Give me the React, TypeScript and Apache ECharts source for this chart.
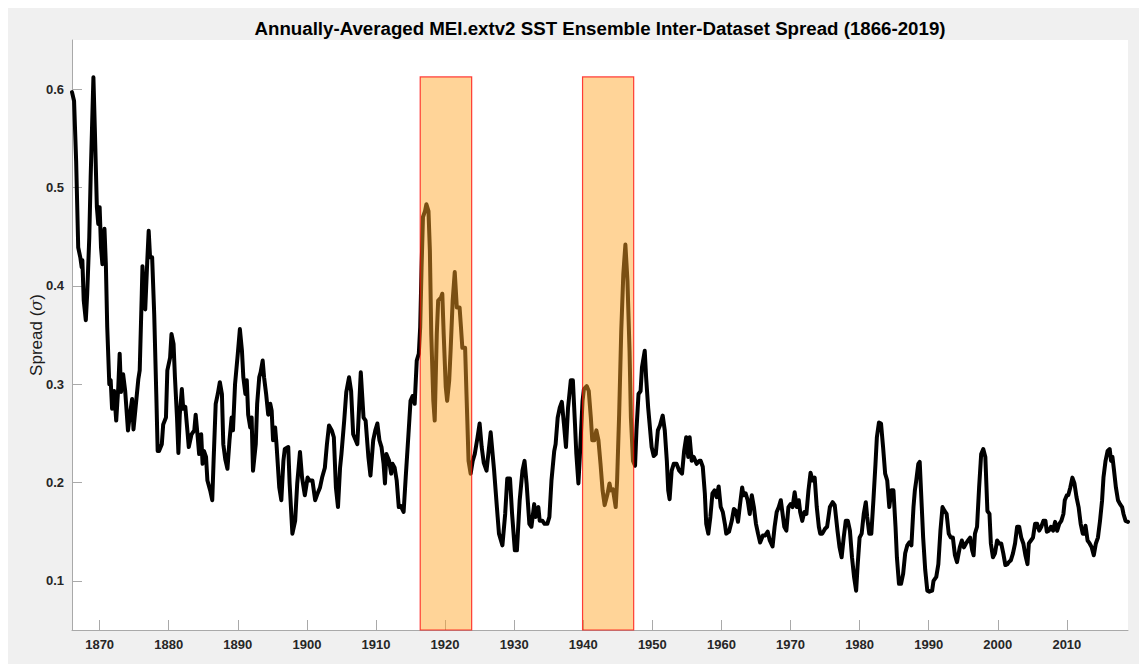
import React, { useEffect, useRef } from "react";
import * as echarts from "echarts";

const TITLE = "Annually-Averaged MEI.extv2 SST Ensemble Inter-Dataset Spread (1866-2019)";
const X_MIN = 1866;
const X_MAX = 2018.85;
const Y_MIN = 0.05;
const Y_MAX = 0.65;
const xTickValues = [1870, 1880, 1890, 1900, 1910, 1920, 1930, 1940, 1950, 1960, 1970, 1980, 1990, 2000, 2010];
const yTickValues = [0.1, 0.2, 0.3, 0.4, 0.5, 0.6];
// highlighted periods [start, end], and the top of the highlight boxes
const highlightPeriods = [
  [1916.4, 1923.85],
  [1939.9, 1947.3],
];
const highlightTop = 0.6125;

// [year, spread] — 1866–1896
const spread1866 = [
  [1866.0, 0.597], [1866.3, 0.588], [1866.6, 0.527], [1866.9, 0.439], [1867.2, 0.429], [1867.4, 0.419],
  [1867.5, 0.426], [1867.7, 0.385], [1868.0, 0.365], [1868.2, 0.392], [1868.5, 0.449], [1868.7, 0.51],
  [1868.9, 0.561], [1869.1, 0.612], [1869.3, 0.561], [1869.6, 0.48], [1869.8, 0.463], [1870.0, 0.48],
  [1870.2, 0.439], [1870.4, 0.422], [1870.7, 0.458], [1870.9, 0.422], [1871.1, 0.358], [1871.4, 0.3],
  [1871.6, 0.304], [1871.8, 0.275], [1872.1, 0.293], [1872.4, 0.263], [1872.7, 0.297], [1872.9, 0.331],
  [1873.1, 0.292], [1873.4, 0.31], [1873.7, 0.293], [1874.1, 0.253], [1874.4, 0.27], [1874.7, 0.285],
  [1874.9, 0.254], [1875.2, 0.276], [1875.6, 0.305], [1875.8, 0.314], [1876.1, 0.392], [1876.2, 0.42],
  [1876.4, 0.392], [1876.6, 0.376], [1876.9, 0.426], [1877.1, 0.456], [1877.3, 0.429], [1877.6, 0.429],
  [1877.9, 0.371], [1878.2, 0.29], [1878.4, 0.232], [1878.6, 0.232], [1879.0, 0.239], [1879.2, 0.259],
  [1879.6, 0.266], [1879.8, 0.314], [1880.2, 0.327], [1880.4, 0.351], [1880.7, 0.341], [1880.9, 0.307],
  [1881.2, 0.266], [1881.4, 0.23], [1881.6, 0.269], [1881.9, 0.295], [1882.1, 0.275], [1882.4, 0.277],
  [1882.7, 0.253], [1882.9, 0.236], [1883.3, 0.249], [1883.7, 0.253], [1883.9, 0.269], [1884.2, 0.246],
  [1884.4, 0.229], [1884.7, 0.249], [1884.9, 0.219], [1885.1, 0.232], [1885.4, 0.226], [1885.6, 0.202],
  [1886.0, 0.192], [1886.3, 0.182], [1886.5, 0.223], [1886.8, 0.28], [1887.1, 0.29], [1887.4, 0.302],
  [1887.7, 0.29], [1887.9, 0.239], [1888.2, 0.223], [1888.5, 0.214], [1888.8, 0.243], [1889.1, 0.266],
  [1889.3, 0.253], [1889.6, 0.3], [1890.0, 0.331], [1890.3, 0.356], [1890.6, 0.334], [1890.8, 0.307],
  [1891.1, 0.29], [1891.3, 0.304], [1891.5, 0.269], [1891.8, 0.256], [1892.0, 0.266], [1892.2, 0.212],
  [1892.6, 0.239], [1892.8, 0.28], [1893.1, 0.307], [1893.3, 0.312], [1893.6, 0.324], [1893.8, 0.307],
  [1894.1, 0.29], [1894.4, 0.269], [1894.7, 0.28], [1894.9, 0.273], [1895.1, 0.243], [1895.4, 0.256],
  [1895.6, 0.239], [1896.0, 0.195],
];

// 1896–1926
const spread1896 = [
  [1896.3, 0.182], [1896.6, 0.222], [1896.8, 0.234], [1897.3, 0.236], [1897.5, 0.199], [1897.9, 0.148],
  [1898.3, 0.161], [1898.6, 0.199], [1899.0, 0.231], [1899.3, 0.205], [1899.7, 0.187], [1900.1, 0.205],
  [1900.4, 0.202], [1900.8, 0.202], [1901.2, 0.182], [1901.5, 0.188], [1901.9, 0.195], [1902.2, 0.205],
  [1902.6, 0.215], [1902.9, 0.239], [1903.2, 0.258], [1903.6, 0.253], [1903.9, 0.246], [1904.2, 0.195],
  [1904.5, 0.175], [1904.8, 0.215], [1905.0, 0.229], [1905.4, 0.263], [1905.7, 0.292], [1906.1, 0.307],
  [1906.4, 0.293], [1906.7, 0.249], [1907.0, 0.244], [1907.3, 0.239], [1907.6, 0.283], [1907.8, 0.312],
  [1908.2, 0.266], [1908.5, 0.263], [1908.9, 0.226], [1909.2, 0.207], [1909.6, 0.243], [1909.9, 0.253],
  [1910.2, 0.26], [1910.5, 0.243], [1910.8, 0.236], [1911.1, 0.219], [1911.3, 0.199], [1911.5, 0.229],
  [1911.9, 0.222], [1912.2, 0.209], [1912.4, 0.219], [1912.7, 0.215], [1913.0, 0.202], [1913.3, 0.175],
  [1913.6, 0.176], [1914.0, 0.17], [1914.3, 0.205], [1914.7, 0.249], [1915.0, 0.283], [1915.3, 0.288],
  [1915.6, 0.28], [1915.9, 0.324], [1916.2, 0.331], [1916.4, 0.358], [1916.6, 0.419], [1916.8, 0.47],
  [1917.1, 0.476], [1917.3, 0.483], [1917.6, 0.476], [1917.8, 0.436], [1918.0, 0.351], [1918.3, 0.283],
  [1918.5, 0.263], [1918.8, 0.351], [1919.0, 0.385], [1919.4, 0.388], [1919.6, 0.392], [1919.8, 0.351],
  [1920.1, 0.297], [1920.3, 0.283], [1920.6, 0.304], [1920.8, 0.334], [1921.1, 0.385], [1921.4, 0.414],
  [1921.7, 0.378], [1922.1, 0.378], [1922.3, 0.358], [1922.5, 0.337], [1922.9, 0.337], [1923.1, 0.29],
  [1923.4, 0.222], [1923.7, 0.209], [1924.0, 0.222], [1924.3, 0.229], [1924.7, 0.246], [1925.0, 0.26],
  [1925.3, 0.236], [1925.6, 0.22], [1926.0, 0.212],
];

// 1926–1957
const spread1926 = [
  [1926.6, 0.251], [1927.1, 0.212], [1927.5, 0.175], [1927.8, 0.148], [1928.3, 0.136], [1928.7, 0.168],
  [1929.0, 0.204], [1929.4, 0.204], [1929.7, 0.168], [1930.1, 0.131], [1930.4, 0.131], [1930.8, 0.182],
  [1931.2, 0.212], [1931.5, 0.222], [1931.8, 0.199], [1932.2, 0.158], [1932.5, 0.155], [1932.9, 0.178],
  [1933.1, 0.165], [1933.5, 0.175], [1933.7, 0.161], [1934.1, 0.161], [1934.4, 0.158], [1934.8, 0.158],
  [1935.1, 0.165], [1935.4, 0.202], [1935.8, 0.232], [1936.0, 0.239], [1936.3, 0.266], [1936.6, 0.276],
  [1936.9, 0.282], [1937.2, 0.26], [1937.5, 0.236], [1937.8, 0.276], [1938.2, 0.304], [1938.5, 0.304],
  [1938.8, 0.26], [1939.0, 0.229], [1939.3, 0.199], [1939.5, 0.226], [1939.9, 0.283], [1940.1, 0.295],
  [1940.5, 0.298], [1940.8, 0.293], [1941.1, 0.266], [1941.3, 0.243], [1941.6, 0.243], [1941.9, 0.253],
  [1942.2, 0.243], [1942.5, 0.219], [1942.8, 0.192], [1943.1, 0.177], [1943.5, 0.188], [1943.8, 0.199],
  [1944.0, 0.192], [1944.3, 0.193], [1944.7, 0.175], [1944.9, 0.202], [1945.2, 0.27], [1945.5, 0.354],
  [1945.8, 0.412], [1946.1, 0.442], [1946.4, 0.405], [1946.7, 0.334], [1946.9, 0.266], [1947.2, 0.222],
  [1947.5, 0.217], [1947.7, 0.253], [1948.0, 0.29], [1948.3, 0.293], [1948.5, 0.317], [1948.9, 0.334],
  [1949.1, 0.307], [1949.4, 0.276], [1949.6, 0.26], [1949.9, 0.236], [1950.2, 0.227], [1950.5, 0.229],
  [1950.8, 0.253], [1951.1, 0.258], [1951.5, 0.268], [1951.8, 0.253], [1952.1, 0.222], [1952.3, 0.192],
  [1952.5, 0.183], [1952.8, 0.212], [1953.1, 0.219], [1953.5, 0.219], [1953.9, 0.212], [1954.3, 0.209],
  [1954.6, 0.232], [1954.9, 0.246], [1955.2, 0.226], [1955.4, 0.246], [1955.7, 0.222], [1956.0, 0.226],
  [1956.4, 0.219], [1956.8, 0.222],
];

// 1957–1987
const spread1957 = [
  [1957.0, 0.222], [1957.3, 0.216], [1957.6, 0.189], [1957.8, 0.158], [1958.1, 0.148], [1958.4, 0.165],
  [1958.7, 0.189], [1959.0, 0.192], [1959.3, 0.185], [1959.6, 0.196], [1959.9, 0.175], [1960.2, 0.17],
  [1960.5, 0.158], [1960.7, 0.148], [1961.1, 0.15], [1961.5, 0.161], [1961.8, 0.173], [1962.1, 0.171],
  [1962.4, 0.16], [1962.7, 0.178], [1963.0, 0.195], [1963.2, 0.187], [1963.5, 0.189], [1963.8, 0.182],
  [1964.1, 0.168], [1964.4, 0.187], [1964.7, 0.175], [1965.0, 0.158], [1965.3, 0.148], [1965.6, 0.139],
  [1966.0, 0.146], [1966.3, 0.146], [1966.7, 0.15], [1967.0, 0.141], [1967.4, 0.135], [1967.7, 0.155],
  [1968.0, 0.17], [1968.3, 0.175], [1968.6, 0.182], [1968.8, 0.171], [1969.1, 0.155], [1969.4, 0.151],
  [1969.7, 0.175], [1970.0, 0.178], [1970.3, 0.175], [1970.6, 0.19], [1970.9, 0.175], [1971.2, 0.182],
  [1971.4, 0.17], [1971.7, 0.161], [1972.0, 0.17], [1972.3, 0.168], [1972.6, 0.192], [1972.9, 0.21],
  [1973.2, 0.202], [1973.5, 0.205], [1973.8, 0.175], [1974.1, 0.155], [1974.3, 0.148], [1974.6, 0.148],
  [1975.0, 0.153], [1975.3, 0.155], [1975.7, 0.175], [1976.1, 0.18], [1976.4, 0.177], [1976.8, 0.151],
  [1977.1, 0.134], [1977.4, 0.124], [1977.7, 0.144], [1978.0, 0.161], [1978.3, 0.161], [1978.6, 0.151],
  [1978.9, 0.124], [1979.2, 0.104], [1979.5, 0.09], [1979.7, 0.114], [1980.0, 0.144], [1980.3, 0.148],
  [1980.6, 0.168], [1980.9, 0.18], [1981.1, 0.165], [1981.4, 0.148], [1981.7, 0.148], [1982.0, 0.182],
  [1982.3, 0.219], [1982.5, 0.246], [1982.8, 0.261], [1983.1, 0.26], [1983.4, 0.236], [1983.7, 0.209],
  [1984.0, 0.202], [1984.3, 0.175], [1984.6, 0.192], [1984.9, 0.192], [1985.2, 0.155], [1985.4, 0.124],
  [1985.7, 0.097], [1986.0, 0.097], [1986.3, 0.107], [1986.6, 0.128], [1986.9, 0.136], [1987.2, 0.139],
];

// 1987–2019
const spread1987 = [
  [1987.5, 0.136], [1987.8, 0.175], [1988.0, 0.192], [1988.2, 0.202], [1988.5, 0.219], [1988.7, 0.221],
  [1989.0, 0.175], [1989.2, 0.144], [1989.5, 0.111], [1989.8, 0.09], [1990.1, 0.089], [1990.5, 0.09],
  [1990.7, 0.1], [1991.1, 0.104], [1991.4, 0.117], [1991.7, 0.151], [1992.0, 0.175], [1992.3, 0.171],
  [1992.6, 0.168], [1992.9, 0.148], [1993.2, 0.144], [1993.5, 0.144], [1993.8, 0.126], [1994.1, 0.119],
  [1994.5, 0.134], [1994.8, 0.141], [1995.1, 0.134], [1995.4, 0.138], [1995.7, 0.141], [1996.0, 0.144],
  [1996.3, 0.131], [1996.5, 0.126], [1996.7, 0.148], [1997.0, 0.155], [1997.3, 0.195], [1997.6, 0.229],
  [1997.9, 0.234], [1998.2, 0.226], [1998.5, 0.171], [1998.8, 0.168], [1999.0, 0.138], [1999.3, 0.124],
  [1999.6, 0.128], [1999.9, 0.141], [2000.2, 0.138], [2000.5, 0.138], [2000.8, 0.128], [2001.1, 0.116],
  [2001.4, 0.117], [2001.6, 0.119], [2001.9, 0.121], [2002.2, 0.128], [2002.5, 0.138], [2002.8, 0.155],
  [2003.1, 0.155], [2003.4, 0.144], [2003.7, 0.138], [2004.0, 0.126], [2004.3, 0.117], [2004.5, 0.138],
  [2004.8, 0.141], [2005.1, 0.144], [2005.4, 0.158], [2005.7, 0.158], [2006.0, 0.151], [2006.3, 0.155],
  [2006.6, 0.161], [2006.9, 0.161], [2007.1, 0.15], [2007.4, 0.151], [2007.7, 0.155], [2008.0, 0.151],
  [2008.3, 0.16], [2008.6, 0.151], [2008.9, 0.158], [2009.2, 0.161], [2009.5, 0.168], [2009.7, 0.182],
  [2010.0, 0.187], [2010.2, 0.187], [2010.5, 0.195], [2010.8, 0.205], [2011.1, 0.199], [2011.4, 0.185],
  [2011.7, 0.175], [2012.0, 0.158], [2012.3, 0.148], [2012.6, 0.148], [2012.7, 0.156], [2013.0, 0.141],
  [2013.3, 0.138], [2013.6, 0.134], [2013.9, 0.126], [2014.2, 0.138], [2014.5, 0.144], [2014.8, 0.161],
  [2015.1, 0.182], [2015.3, 0.205], [2015.6, 0.222], [2015.9, 0.232], [2016.2, 0.234], [2016.4, 0.222],
  [2016.6, 0.226], [2016.8, 0.214], [2017.1, 0.195], [2017.4, 0.182], [2017.7, 0.178], [2018.0, 0.175],
  [2018.2, 0.168], [2018.5, 0.161], [2018.85, 0.16],
];

const FONT = "'Liberation Sans', Arial, Helvetica, sans-serif";
const AXIS_GRAY = "#a9a9a9";
const TEXT_DARK = "#262626";

export default function App() {
  const ref = useRef<HTMLDivElement>(null);

  useEffect(() => {
    if (!ref.current) return;
    const chart = echarts.init(ref.current, undefined, { renderer: "svg" });
    const data = [...spread1866, ...spread1896, ...spread1926, ...spread1957, ...spread1987];

    chart.setOption({
      animation: false,
      backgroundColor: "#f0f0f0",
      title: {
        text: TITLE,
        left: 587,
        top: 6,
        textAlign: "center",
        textStyle: { fontFamily: FONT, fontWeight: "bold", fontSize: 18.7, color: "#000" },
      },
      grid: {
        left: 64,
        right: 11,
        top: 32,
        bottom: 34,
        show: true,
        backgroundColor: "#ffffff",
        borderWidth: 0,
      },
      xAxis: {
        type: "value",
        min: X_MIN,
        max: X_MAX,
        axisLine: { show: true, onZero: false, lineStyle: { color: AXIS_GRAY, width: 1 } },
        axisTick: {
          show: true,
          inside: true,
          length: 10,
          customValues: xTickValues,
          lineStyle: { color: AXIS_GRAY, width: 1 },
        },
        axisLabel: {
          customValues: xTickValues,
          formatter: (v: number) => String(v),
          fontFamily: FONT,
          fontWeight: "bold",
          fontSize: 13,
          color: TEXT_DARK,
          margin: 8,
        },
        splitLine: { show: false },
      },
      yAxis: {
        type: "value",
        min: Y_MIN,
        max: Y_MAX,
        name: "Spread ({i|σ})",
        nameLocation: "middle",
        nameGap: 27,
        nameMoveOverlap: false,
        nameTextStyle: {
          fontFamily: FONT,
          fontSize: 17,
          color: "#1c1c1c",
          rich: {
            i: { fontFamily: "'DejaVu Serif', serif", fontStyle: "italic", fontSize: 16, color: "#1c1c1c" },
          },
        },
        axisLine: { show: true, lineStyle: { color: AXIS_GRAY, width: 1 } },
        axisTick: {
          show: true,
          inside: true,
          length: 10,
          customValues: yTickValues,
          lineStyle: { color: AXIS_GRAY, width: 1 },
        },
        axisLabel: {
          customValues: yTickValues,
          formatter: (v: number) => v.toFixed(1),
          fontFamily: FONT,
          fontWeight: "bold",
          fontSize: 13,
          color: TEXT_DARK,
          margin: 8,
        },
        splitLine: { show: false },
      },
      series: [
        {
          type: "line",
          data,
          showSymbol: false,
          symbol: "none",
          smooth: false,
          z: 2,
          lineStyle: { color: "#000000", width: 4, join: "round", cap: "round" },
        },
        {
          type: "line",
          data: [],
          z: 5,
          silent: true,
          markArea: {
            silent: true,
            z: 10,
            itemStyle: {
              color: "rgba(255,166,40,0.48)",
              borderColor: "rgba(255,0,0,0.75)",
              borderWidth: 1.2,
            },
            data: highlightPeriods.map(([a, b]) => [
              { xAxis: a, yAxis: Y_MIN },
              { xAxis: b, yAxis: highlightTop },
            ]),
          },
        },
      ],
    });

    return () => chart.dispose();
  }, []);

  return (
    <div
      ref={ref}
      style={{ position: "fixed", left: 8, top: 8, width: 1131, height: 656 }}
    />
  );
}
